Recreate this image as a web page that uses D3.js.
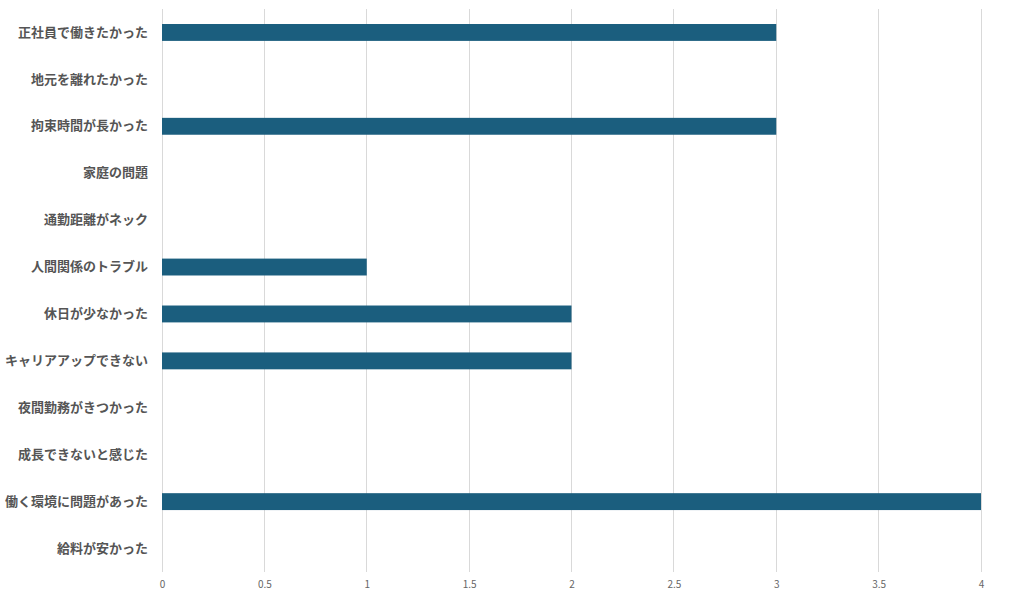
<!DOCTYPE html>
<html><head><meta charset="utf-8">
<script src="https://cdn.jsdelivr.net/npm/d3@7"></script>
<style>
body{margin:0;background:#fff;}
svg{display:block;}
</style></head>
<body><svg id="c" width="1024" height="600"></svg>
<script>
const categories = ["正社員で働きたかった","地元を離れたかった","拘束時間が長かった","家庭の問題","通勤距離がネック","人間関係のトラブル","休日が少なかった","キャリアアップできない","夜間勤務がきつかった","成長できないと感じた","働く環境に問題があった","給料が安かった"];
const values = [3,0,3,0,0,1,2,2,0,0,4,0];
const tickValues = [0,0.5,1,1.5,2,2.5,3,3.5,4];

(function(){
const svg = d3.select("#c");
const mLeft = 162, mRight = 981, mTop = 9, mBottom = 572;
const x = d3.scaleLinear().domain([0,4]).range([mLeft,mRight]);
const y = d3.scaleBand().domain(categories).range([mTop,mBottom]).paddingInner(0.64).paddingOuter(0.32);

const font = "'Noto Sans CJK JP', 'Noto Sans', sans-serif";

svg.append("g").selectAll("line").data(tickValues).join("line")
  .attr("x1",d=>x(d)).attr("x2",d=>x(d)).attr("y1",mTop).attr("y2",mBottom)
  .attr("stroke","#d9d9d9").attr("stroke-width",1).attr("shape-rendering","crispEdges");

const xa = svg.append("g").attr("transform",`translate(0,${mBottom})`)
  .call(d3.axisBottom(x).tickValues(tickValues).tickSize(0).tickPadding(9).tickFormat(d3.format("")));
xa.select(".domain").remove();
xa.selectAll("text").attr("font-family",font).attr("font-size",10).attr("fill","#666");

svg.append("g").selectAll("rect").data(categories).join("rect")
  .attr("x",x(0)).attr("y",d=>y(d))
  .attr("width",(d,i)=>x(values[i])-x(0))
  .attr("height",y.bandwidth())
  .attr("fill","#1b5e7e");

const ya = svg.append("g").attr("transform",`translate(${mLeft},0)`)
  .call(d3.axisLeft(y).tickSize(0).tickPadding(14));
ya.select(".domain").remove();
ya.selectAll("text").attr("font-family",font).attr("font-size",13).attr("font-weight","bold").attr("fill","#555");
})();
</script></body></html>
